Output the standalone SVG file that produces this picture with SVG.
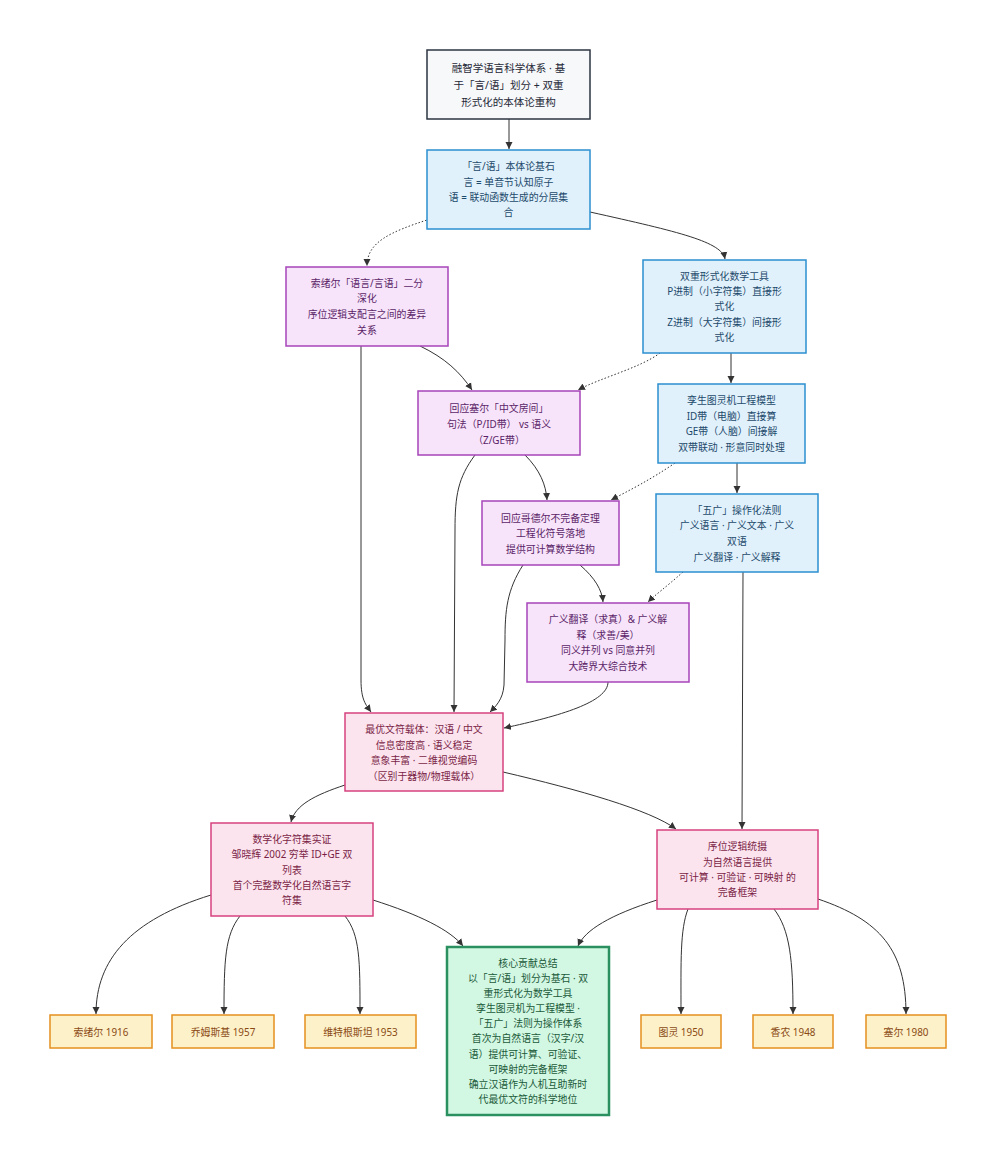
<svg xmlns="http://www.w3.org/2000/svg" width="997" height="1167" viewBox="0 0 997 1167">
<defs>
<marker id="arr" markerWidth="8" markerHeight="8" refX="7" refY="4" orient="auto" markerUnits="userSpaceOnUse">
<path d="M0,0.5 L7,4 L0,7.5 z" fill="#333"/>
</marker>
<style>
text{font-family:"Noto Sans","Noto Sans CJK SC",sans-serif;font-size:9.9px;text-anchor:middle;dominant-baseline:central}
.e{fill:none;stroke:#333;stroke-width:1;marker-end:url(#arr)}
.d{stroke-dasharray:1.5,2}
.root rect{fill:#f6f8fa;stroke:#2d3440;stroke-width:1.5}
.root text{fill:#1f2937;font-size:10.5px}
.blue rect{fill:#e1f1fc;stroke:#2b8fd0;stroke-width:1.5}
.blue text{fill:#1d4a6b}
.pur rect{fill:#f7e4fa;stroke:#a744b9;stroke-width:1.5}
.pur text{fill:#5b1f68}
.pink rect{fill:#fce4ef;stroke:#d6427f;stroke-width:1.5}
.pink text{fill:#7a1f46}
.green rect{fill:#d2f7e2;stroke:#2a9060;stroke-width:2.5}
.green text{fill:#1b5a3a}
.leaf rect{fill:#fdf1c9;stroke:#e5901f;stroke-width:1.5}
.leaf text{fill:#8a4a14}
</style>
</defs>
<rect width="997" height="1167" fill="#ffffff"/>
<g id="connectors">
<path class="e" d="M509,119 L509,149"/>
<path class="e d" d="M430,219 C390,232 367,242 367,266"/>
<path class="e" d="M590,212 C680,232 722,242 725,259"/>
<path class="e" d="M420,346 C445,358 460,372 472,390"/>
<path class="e d" d="M660,353 C640,368 600,378 578,390"/>
<path class="e" d="M731,353 L731,383"/>
<path class="e" d="M361,346 L361,680 C361,700 366,705 371,712"/>
<path class="e" d="M475,455 C458,478 455,495 455,530 L454,712"/>
<path class="e" d="M525,455 C540,470 546,485 547,500"/>
<path class="e d" d="M675,463 C650,480 630,490 611,500"/>
<path class="e" d="M737,463 L737,493"/>
<path class="e" d="M523,565 C507,590 505,610 505,640 L504,685 C503,700 495,707 490,712"/>
<path class="e" d="M580,565 C595,578 602,590 603,602"/>
<path class="e d" d="M683,572 C665,588 655,595 648,602"/>
<path class="e" d="M743,572 L742,829"/>
<path class="e" d="M608,682 C608,702 560,716 504,728"/>
<path class="e" d="M345,785 C315,795 295,805 291,822"/>
<path class="e" d="M503,772 C580,790 650,810 676,829"/>
<path class="e" d="M211,895 C130,920 96,960 96,1014"/>
<path class="e" d="M240,916 C225,935 224,960 224,1014"/>
<path class="e" d="M345,916 C360,935 360,960 360,1014"/>
<path class="e" d="M373,900 C420,915 450,930 463,946"/>
<path class="e" d="M657,900 C610,915 585,930 578,946"/>
<path class="e" d="M688,909 C680,930 681,960 681,1014"/>
<path class="e" d="M774,909 C790,930 793,960 793,1014"/>
<path class="e" d="M818,899 C880,920 906,950 906,1014"/>
</g>
<g id="root" class="root">
<rect x="427" y="50" width="163" height="69"/>
<text x="508.5" y="68">融智学语言科学体系 · 基</text>
<text x="508.5" y="85">于「言/语」划分 + 双重</text>
<text x="508.5" y="102">形式化的本体论重构</text>
</g>
<g id="foundation" class="blue">
<rect x="427" y="150" width="163" height="79"/>
<text x="508.5" y="166">「言/语」本体论基石</text>
<text x="508.5" y="182">言 = 单音节认知原子</text>
<text x="508.5" y="197">语 = 联动函数生成的分层集</text>
<text x="508.5" y="212">合</text>
</g>
<g id="saussure" class="pur">
<rect x="286" y="267" width="162" height="79"/>
<text x="367" y="283">索绪尔「语言/言语」二分</text>
<text x="367" y="298">深化</text>
<text x="367" y="314">序位逻辑支配言之间的差异</text>
<text x="367" y="330">关系</text>
</g>
<g id="dual" class="blue">
<rect x="643" y="260" width="163" height="93"/>
<text x="724.5" y="276">双重形式化数学工具</text>
<text x="724.5" y="291">P进制（小字符集）直接形</text>
<text x="724.5" y="306">式化</text>
<text x="724.5" y="322">Z进制（大字符集）间接形</text>
<text x="724.5" y="337">式化</text>
</g>
<g id="searle" class="pur">
<rect x="418" y="391" width="162" height="64"/>
<text x="499" y="408">回应塞尔「中文房间」</text>
<text x="499" y="424">句法（P/ID带） vs 语义</text>
<text x="499" y="440">（Z/GE带）</text>
</g>
<g id="twin" class="blue">
<rect x="658" y="384" width="147" height="79"/>
<text x="731.5" y="400">孪生图灵机工程模型</text>
<text x="731.5" y="416">ID带（电脑）直接算</text>
<text x="731.5" y="431">GE带（人脑）间接解</text>
<text x="731.5" y="447">双带联动 · 形意同时处理</text>
</g>
<g id="godel" class="pur">
<rect x="482" y="501" width="137" height="64"/>
<text x="550.5" y="518">回应哥德尔不完备定理</text>
<text x="550.5" y="533">工程化符号落地</text>
<text x="550.5" y="549">提供可计算数学结构</text>
</g>
<g id="wuguang" class="blue">
<rect x="656" y="494" width="162" height="78"/>
<text x="737" y="510">「五广」操作化法则</text>
<text x="737" y="525">广义语言 · 广义文本 · 广义</text>
<text x="737" y="541">双语</text>
<text x="737" y="557">广义翻译 · 广义解释</text>
</g>
<g id="translate" class="pur">
<rect x="527" y="603" width="162" height="79"/>
<text x="608" y="619">广义翻译（求真）&amp; 广义解</text>
<text x="608" y="635">释（求善/美）</text>
<text x="608" y="650">同义并列 vs 同意并列</text>
<text x="608" y="666">大跨界大综合技术</text>
</g>
<g id="optimal" class="pink">
<rect x="345" y="713" width="158" height="78"/>
<text x="424" y="729">最优文符载体：汉语 / 中文</text>
<text x="424" y="745">信息密度高 · 语义稳定</text>
<text x="424" y="760">意象丰富 · 二维视觉编码</text>
<text x="424" y="776">（区别于器物/物理载体）</text>
</g>
<g id="digital" class="pink">
<rect x="211" y="823" width="162" height="93"/>
<text x="292" y="839">数学化字符集实证</text>
<text x="292" y="854">邹晓辉 2002 穷举 ID+GE 双</text>
<text x="292" y="870">列表</text>
<text x="292" y="885">首个完整数学化自然语言字</text>
<text x="292" y="900">符集</text>
</g>
<g id="order" class="pink">
<rect x="657" y="830" width="161" height="79"/>
<text x="737.5" y="846">序位逻辑统摄</text>
<text x="737.5" y="862">为自然语言提供</text>
<text x="737.5" y="877">可计算 · 可验证 · 可映射 的</text>
<text x="737.5" y="892">完备框架</text>
</g>
<g id="core" class="green">
<rect x="447" y="947" width="162" height="168"/>
<text x="528" y="963">核心贡献总结</text>
<text x="528" y="978">以「言/语」划分为基石 · 双</text>
<text x="528" y="993">重形式化为数学工具</text>
<text x="528" y="1008">孪生图灵机为工程模型 ·</text>
<text x="528" y="1023">「五广」法则为操作体系</text>
<text x="528" y="1038">首次为自然语言（汉字/汉</text>
<text x="528" y="1054">语）提供可计算、可验证、</text>
<text x="528" y="1069">可映射的完备框架</text>
<text x="528" y="1084">确立汉语作为人机互助新时</text>
<text x="528" y="1099">代最优文符的科学地位</text>
</g>
<g id="leaf-saussure" class="leaf">
<rect x="50" y="1015" width="102" height="33"/>
<text x="101" y="1031.5">索绪尔 1916</text>
</g>
<g id="leaf-chomsky" class="leaf">
<rect x="172" y="1015" width="102" height="33"/>
<text x="223" y="1031.5">乔姆斯基 1957</text>
</g>
<g id="leaf-wittgenstein" class="leaf">
<rect x="305" y="1015" width="111" height="33"/>
<text x="360.5" y="1031.5">维特根斯坦 1953</text>
</g>
<g id="leaf-turing" class="leaf">
<rect x="641" y="1015" width="80" height="33"/>
<text x="681" y="1031.5">图灵 1950</text>
</g>
<g id="leaf-shannon" class="leaf">
<rect x="753" y="1015" width="80" height="33"/>
<text x="793" y="1031.5">香农 1948</text>
</g>
<g id="leaf-searle" class="leaf">
<rect x="866" y="1015" width="80" height="33"/>
<text x="906" y="1031.5">塞尔 1980</text>
</g>
</svg>
